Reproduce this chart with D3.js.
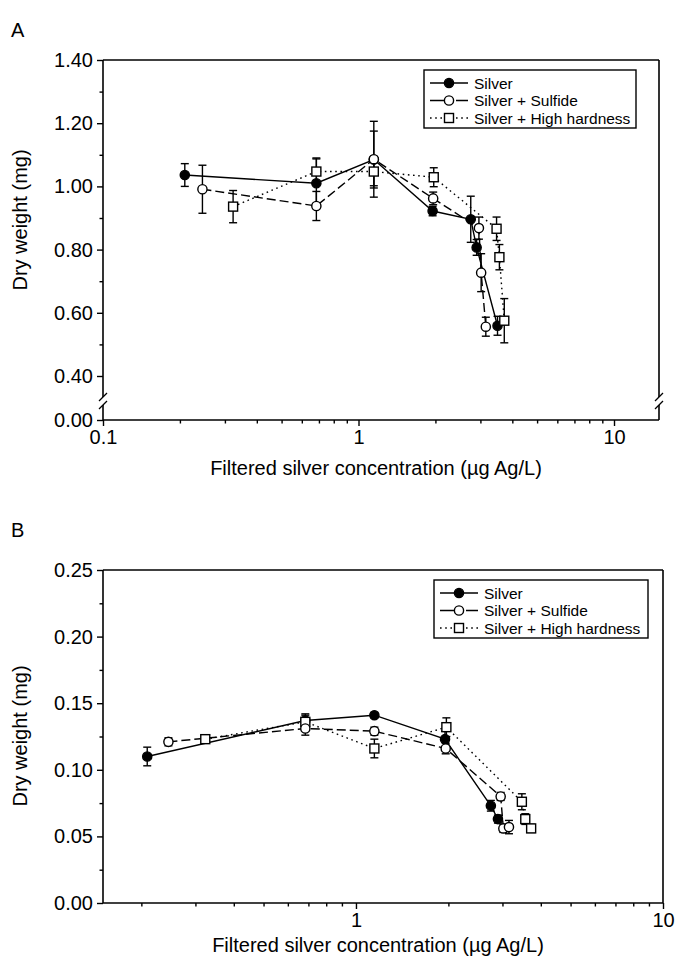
<!DOCTYPE html>
<html><head><meta charset="utf-8">
<script src="https://cdn.jsdelivr.net/npm/d3@7/dist/d3.min.js"></script>
<style>
body{margin:0;background:#fff;}
svg text{font-family:"Liberation Sans",Arial,Helvetica,sans-serif;fill:#000;}
</style>
</head><body>
<svg id="chart" width="677" height="967"></svg>
<script>
// ---------------- data ----------------
const seriesNames = ["Silver", "Silver + Sulfide", "Silver + High hardness"];

// filtered silver concentration (µg Ag/L)
const xSilver   = [0.209, 0.684, 1.148, 1.95, 2.75, 2.90, 3.50];
const xSulfide  = [0.245, 0.684, 1.148, 1.96, 2.96, 3.02, 3.15];
const xHardness = [0.323, 0.684, 1.148, 1.97, 3.47, 3.56, 3.72];

// Panel A dry weight (mg) and error
const silverA      = [1.036, 1.010, 1.085, 0.922, 0.896, 0.807, 0.559];
const silverAErr   = [0.036, 0.080, 0.090, 0.015, 0.073, 0.025, 0.030];
const sulfideA     = [0.991, 0.938, 1.086, 0.962, 0.868, 0.727, 0.556];
const sulfideAErr  = [0.076, 0.046, 0.120, 0.020, 0.035, 0.060, 0.030];
const hardnessA    = [0.936, 1.047, 1.047, 1.029, 0.866, 0.776, 0.575];
const hardnessAErr = [0.051, 0.040, 0.045, 0.030, 0.037, 0.040, 0.070];

// Panel B dry weight (mg) and error
const silverB      = [0.110, 0.137, 0.141, 0.123, 0.073, 0.063];
const silverBErr   = [0.007, 0.005, 0.002, 0.006, 0.004, 0.003];
const sulfideB     = [0.121, 0.131, 0.129, 0.116, 0.080, 0.056, 0.057];
const sulfideBErr  = [0.003, 0.005, 0.003, 0.004, 0.003, 0.003, 0.005];
const hardnessB    = [0.123, 0.136, 0.116, 0.132, 0.076, 0.063, 0.056];
const hardnessBErr = [0.003, 0.005, 0.007, 0.007, 0.006, 0.004, 0.003];

// tick labels
const yTicksA  = [0, 0.4, 0.6, 0.8, 1.0, 1.2, 1.4];
const yMinorA  = [0.5, 0.7, 0.9, 1.1, 1.3];
const yTicksB  = [0, 0.05, 0.10, 0.15, 0.20, 0.25];
const yMinorB  = [0.025, 0.075, 0.125, 0.175, 0.225];
const xTicksA  = [0.1, 1, 10];
const xTicksB  = [1, 10];
const xMinor   = [0.2, 0.3, 0.4, 0.5, 0.6, 0.7, 0.8, 0.9, 2, 3, 4, 5, 6, 7, 8, 9];

const xTitle = "Filtered silver concentration (\u00B5g Ag/L)";
const yTitle = "Dry weight (mg)";

// ---------------- drawing ----------------
const svg = d3.select("#chart");
const styles = [
  {fill: "#000", dash: null},
  {fill: "#fff", dash: "9,4"},
  {fill: "#fff", dash: "1.6,3.6"}
];

function mk(xs, ys, es) { return xs.slice(0, ys.length).map((x, i) => ({x, y: ys[i], e: es[i]})); }

function drawPanel(p) {
  const g = svg.append("g");
  const x = p.x, y = p.y;
  const [x0, x1] = x.range();
  const yTop = p.yTop, yBot = p.yBot;

  // y axis ticks
  g.append("g").attr("transform", `translate(${x0},0)`)
    .call(d3.axisLeft(y).tickValues(p.yTicks).tickFormat(d3.format(".2f")).tickSize(6).tickPadding(4))
    .call(a => a.select(".domain").remove());
  g.append("g").attr("transform", `translate(${x0},0)`)
    .call(d3.axisLeft(y).tickValues(p.yMinor).tickFormat("").tickSize(3.5))
    .call(a => a.select(".domain").remove());
  // x axis ticks
  g.append("g").attr("transform", `translate(0,${yBot})`)
    .call(d3.axisBottom(x).tickValues(p.xTicks).tickFormat(d3.format("~g")).tickSize(6).tickPadding(4))
    .call(a => a.select(".domain").remove());
  g.append("g").attr("transform", `translate(0,${yBot})`)
    .call(d3.axisBottom(x).tickValues(xMinor.filter(v => v > x.domain()[0] && v < x.domain()[1])).tickFormat("").tickSize(3.5))
    .call(a => a.select(".domain").remove());
  g.selectAll(".tick line").attr("stroke", "#000").attr("stroke-width", 1.4);
  g.selectAll(".tick text").attr("font-size", 20).attr("font-family", "Liberation Sans, Arial, sans-serif").attr("fill", "#000");

  // frame
  const fr = g.append("g").attr("stroke", "#000").attr("stroke-width", 1.6).attr("fill", "none");
  fr.append("line").attr("x1", x0).attr("x2", x1).attr("y1", yTop).attr("y2", yTop);
  fr.append("line").attr("x1", x0).attr("x2", x1).attr("y1", yBot).attr("y2", yBot);
  [x0, x1].forEach(xx => {
    if (p.brk) {
      const [b1, b2] = p.brk;
      fr.append("line").attr("x1", xx).attr("x2", xx).attr("y1", yTop).attr("y2", b1);
      fr.append("line").attr("x1", xx).attr("x2", xx).attr("y1", b2).attr("y2", yBot);
      [b1, b2].forEach(b => fr.append("line").attr("stroke-width", 1.3)
        .attr("x1", xx - 4).attr("y1", b + 4).attr("x2", xx + 4).attr("y2", b - 4));
    } else {
      fr.append("line").attr("x1", xx).attr("x2", xx).attr("y1", yTop).attr("y2", yBot);
    }
  });

  // titles
  g.append("text").attr("x", (x0 + x1) / 2 + p.xTitleDx).attr("y", p.xTitleY)
    .attr("text-anchor", "middle").attr("font-size", 20).text(xTitle);
  g.append("text").attr("transform", `translate(${p.yTitleX},${p.yTitleY}) rotate(-90)`)
    .attr("text-anchor", "middle").attr("font-size", 20).text(yTitle);
  g.append("text").attr("x", 11).attr("y", p.letterY).attr("font-size", 20).text(p.letter);

  // series
  const series = p.series;
  const line = d3.line().x(d => x(d.x)).y(d => y(d.y));
  series.forEach((s, i) => {
    g.append("path").datum(s).attr("d", line).attr("fill", "none").attr("stroke", "#000")
      .attr("stroke-width", 1.4).attr("stroke-dasharray", styles[i].dash);
  });
  series.forEach(s => {
    const eb = g.append("g").attr("stroke", "#000").attr("stroke-width", 1.4);
    s.forEach(d => {
      const cx = x(d.x), ya = y(d.y - d.e), yb = y(d.y + d.e);
      eb.append("line").attr("x1", cx).attr("x2", cx).attr("y1", ya).attr("y2", yb);
      eb.append("line").attr("x1", cx - 4).attr("x2", cx + 4).attr("y1", ya).attr("y2", ya);
      eb.append("line").attr("x1", cx - 4).attr("x2", cx + 4).attr("y1", yb).attr("y2", yb);
    });
  });
  [0, 2, 1].forEach(i => {
    const s = series[i];
    const mg = g.append("g");
    s.forEach(d => drawMarker(mg, i, x(d.x), y(d.y)));
  });

  // legend
  const L = p.legend;
  const lg = g.append("g").attr("transform", `translate(${L.x},${L.y})`);
  lg.append("rect").attr("width", L.w).attr("height", L.h).attr("fill", "#fff")
    .attr("stroke", "#000").attr("stroke-width", 1.4);
  seriesNames.forEach((n, i) => {
    const yy = 13 + i * 17.5;
    lg.append("line").attr("x1", 6).attr("x2", 44).attr("y1", yy).attr("y2", yy)
      .attr("stroke", "#000").attr("stroke-width", 1.4).attr("stroke-dasharray", i === 1 ? "14,4,4,4" : styles[i].dash);
    drawMarker(lg, i, 25, yy);
    lg.append("text").attr("x", 50).attr("y", yy + 5.5).attr("font-size", 15.5).text(n);
  });
}

function drawMarker(sel, i, cx, cy) {
  if (i === 2) {
    sel.append("rect").attr("x", cx - 4.5).attr("y", cy - 4.5).attr("width", 9).attr("height", 9)
      .attr("fill", "#fff").attr("stroke", "#000").attr("stroke-width", 1.4);
  } else {
    sel.append("circle").attr("cx", cx).attr("cy", cy).attr("r", 4.6)
      .attr("fill", styles[i].fill).attr("stroke", "#000").attr("stroke-width", 1.4);
  }
}

// Panel A
drawPanel({
  letter: "A", letterY: 37,
  x: d3.scaleLog().domain([0.1, 15]).range([103, 659]),
  y: d3.scaleLinear().domain([0, 0.4, 1.4]).range([420, 376, 60]),
  yTop: 60, yBot: 420, brk: [397, 405],
  yTicks: yTicksA, yMinor: yMinorA, xTicks: xTicksA,
  xTitleY: 475, xTitleDx: -5, yTitleX: 27, yTitleY: 220,
  legend: {x: 424, y: 70, w: 212, h: 58},
  series: [mk(xSilver, silverA, silverAErr), mk(xSulfide, sulfideA, sulfideAErr), mk(xHardness, hardnessA, hardnessAErr)]
});

// Panel B
drawPanel({
  letter: "B", letterY: 537,
  x: d3.scaleLog().domain([0.15, 10]).range([103, 663]),
  y: d3.scaleLinear().domain([0, 0.25]).range([903, 570]),
  yTop: 570, yBot: 903, brk: null,
  yTicks: yTicksB, yMinor: yMinorB, xTicks: xTicksB,
  xTitleY: 952, xTitleDx: -5, yTitleX: 27, yTitleY: 736,
  legend: {x: 434, y: 580, w: 214, h: 58},
  series: [mk(xSilver, silverB, silverBErr), mk(xSulfide, sulfideB, sulfideBErr), mk(xHardness, hardnessB, hardnessBErr)]
});
</script>
</body></html>
